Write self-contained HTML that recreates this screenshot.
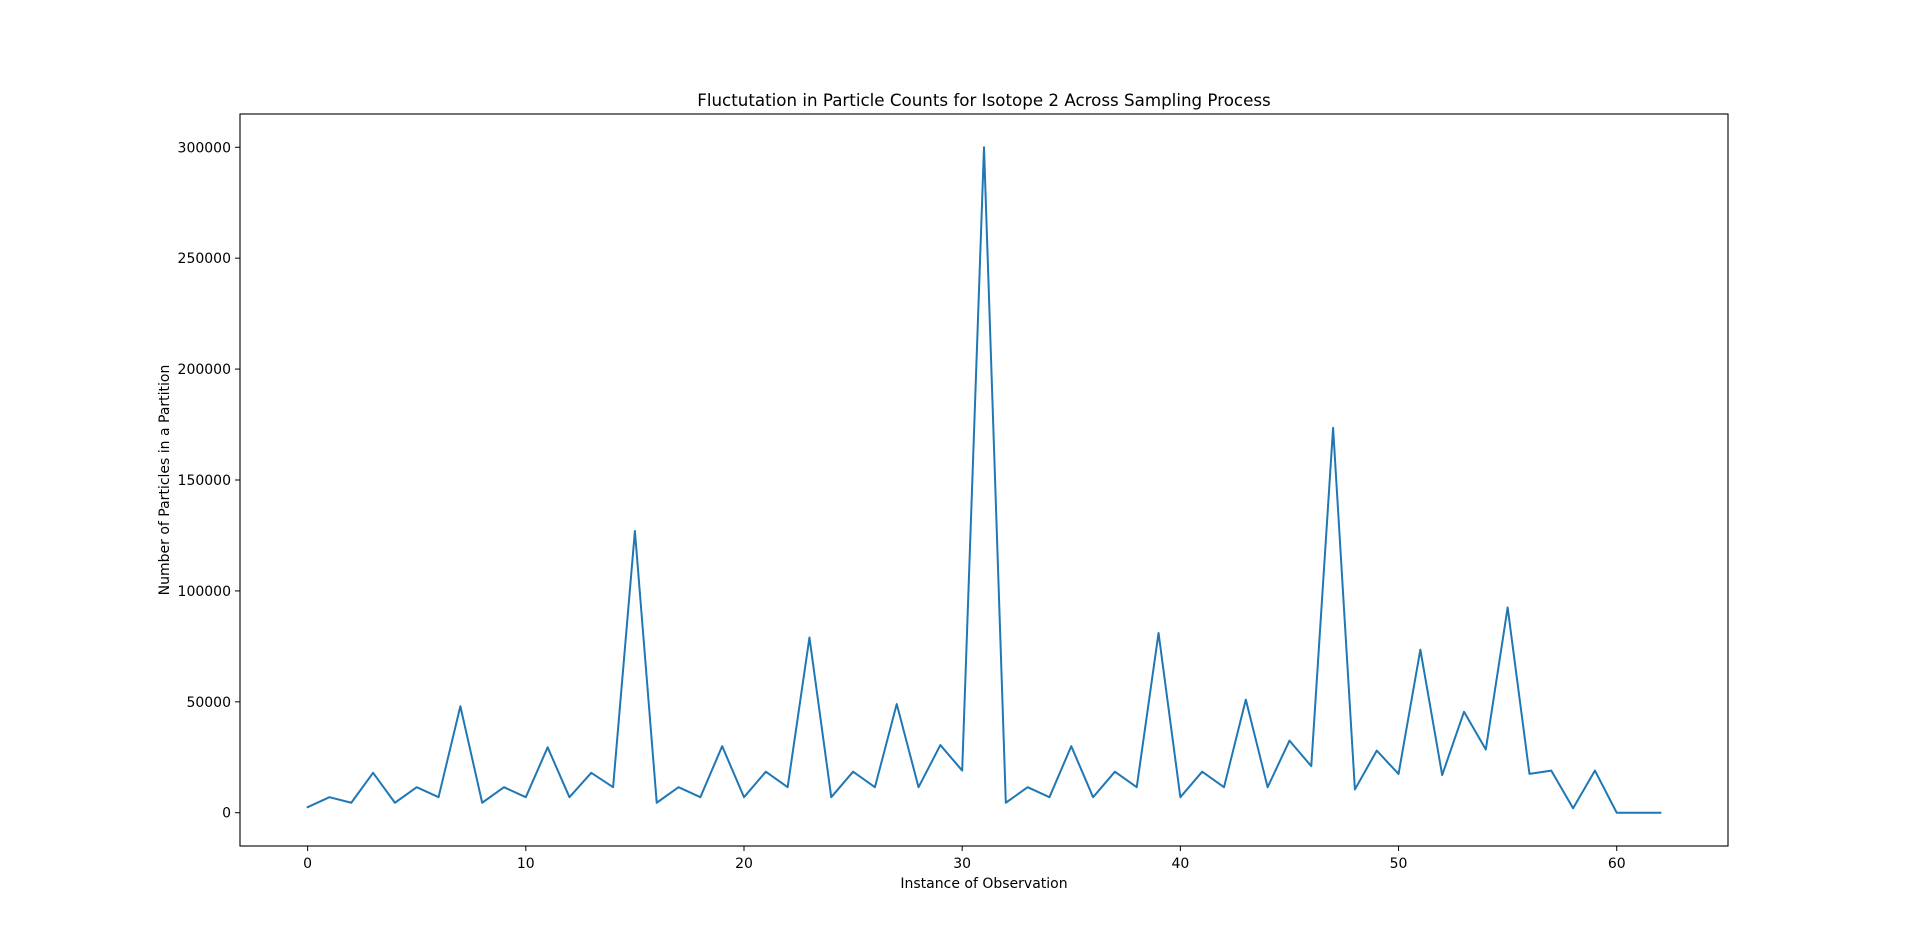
<!DOCTYPE html>
<html><head><meta charset="utf-8"><style>
html,body{margin:0;padding:0;background:#fff;}
svg{display:block;font-family:"DejaVu Sans","Liberation Sans",sans-serif;}
</style></head><body>
<svg id="chart" width="1920" height="951" xmlns="http://www.w3.org/2000/svg">
<rect width="1920" height="951" fill="#fff"/>
<g id="plot"></g>
</svg>
<script>
const values = [2500,7000,4500,18000,4500,11500,7000,48000,4500,11500,7000,29500,7000,18000,11500,127000,4500,11500,7000,30000,7000,18500,11500,79000,7000,18500,11500,49000,11500,30500,19000,300000,4500,11500,7000,30000,7000,18500,11500,81000,7000,18500,11500,51000,11500,32500,21000,173500,10500,28000,17500,73500,17000,45500,28500,92500,17500,19000,2000,19000,0,0,0];
const xTicks = [0,10,20,30,40,50,60];
const yTicks = [0,50000,100000,150000,200000,250000,300000];
const titleText = "Fluctutation in Particle Counts for Isotope 2 Across Sampling Process";
const xLabelText = "Instance of Observation";
const yLabelText = "Number of Particles in a Partition";

const L=240,R=1728,T=114,B=846;
const n=values.length-1;
const xmin=-0.05*n, xmax=n*1.05;
const ymaxD=Math.max(...values), yminD=Math.min(...values);
const yr=ymaxD-yminD;
const ymin=yminD-0.05*yr, ymax=ymaxD+0.05*yr;
const sx=v=>L+(v-xmin)/(xmax-xmin)*(R-L);
const sy=v=>B-(v-ymin)/(ymax-ymin)*(B-T);
const NS="http://www.w3.org/2000/svg";
const g=document.getElementById('plot');
function mk(tag,attrs,text){const e=document.createElementNS(NS,tag);for(const k in attrs)e.setAttribute(k,attrs[k]);if(text!==undefined)e.textContent=text;g.appendChild(e);return e;}

const pts=values.map((v,i)=>sx(i).toFixed(2)+","+sy(v).toFixed(2)).join(" ");
const line=mk('polyline',{points:pts,fill:'none',stroke:'#1f77b4','stroke-width':2,'stroke-linejoin':'round','stroke-linecap':'square'});



const frame=mk('rect',{x:L,y:T,width:R-L,height:B-T,fill:'none',stroke:'#000','stroke-width':1.1});



xTicks.forEach(t=>{
  const x=sx(t);
  const tk=mk('line',{x1:x,x2:x,y1:B,y2:B+5,stroke:'#000','stroke-width':1});
  
  
  const lb=mk('text',{x:x,y:B+22,'text-anchor':'middle','font-size':14,fill:'#000'},String(t));
  
  
});
yTicks.forEach(t=>{
  const y=sy(t);
  const tk=mk('line',{x1:L-5,x2:L,y1:y,y2:y,stroke:'#000','stroke-width':1});
  
  
  const lb=mk('text',{x:L-9,y:y+5,'text-anchor':'end','font-size':14,fill:'#000'},String(t));
  
  
});
const ti=mk('text',{x:(L+R)/2,y:T-8,'text-anchor':'middle','font-size':16.7,fill:'#000'},titleText);


const xl=mk('text',{x:(L+R)/2,y:888,'text-anchor':'middle','font-size':14,fill:'#000'},xLabelText);


const yl=mk('text',{x:0,y:0,'text-anchor':'middle','font-size':14,fill:'#000',transform:`translate(169,${(T+B)/2}) rotate(-90)`},yLabelText);


</script>
</body></html>
